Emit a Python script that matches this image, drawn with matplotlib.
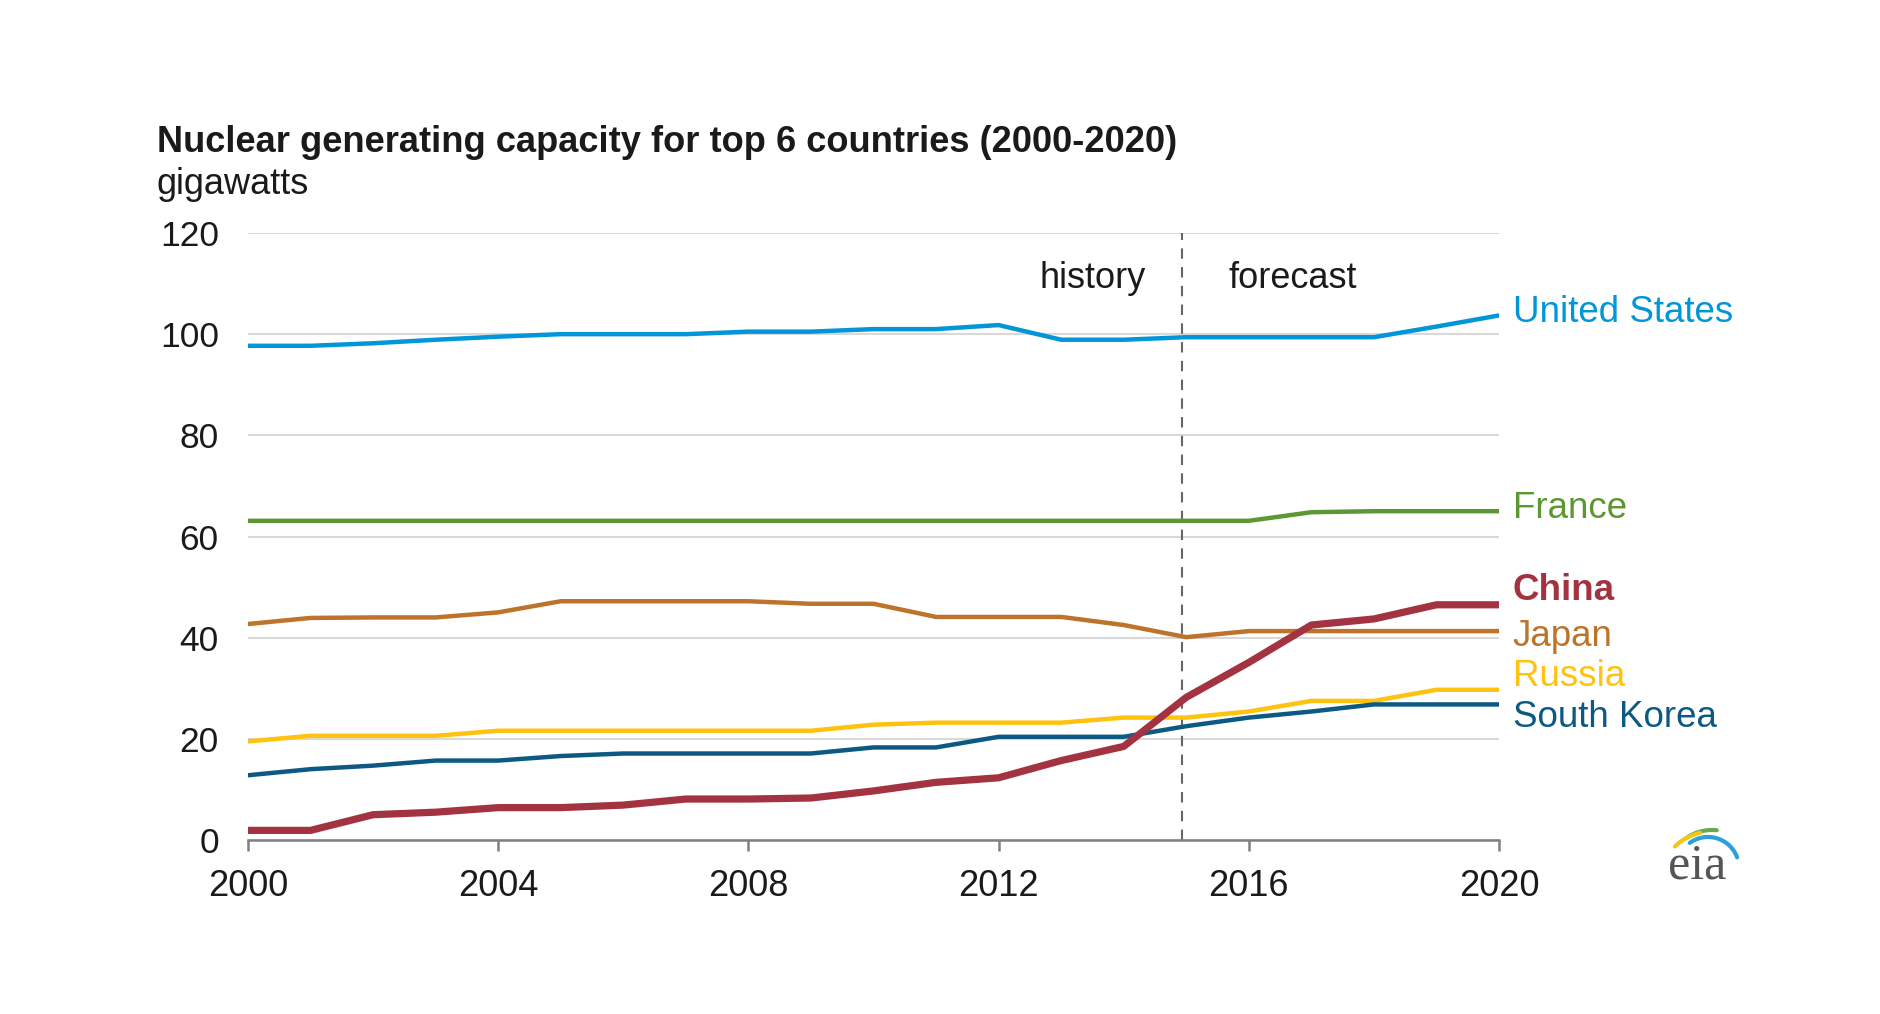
import matplotlib
matplotlib.use("Agg")
import matplotlib.pyplot as plt
import numpy as np

plt.rcParams['font.family'] = ['Liberation Sans', 'DejaVu Sans']

years = list(range(2000, 2021))
united_states = [97.7, 97.7, 98.2, 98.9, 99.5, 100.0, 100.0, 100.0, 100.5, 100.5, 101.0,
                 101.0, 101.8, 98.9, 98.9, 99.4, 99.4, 99.4, 99.4, 101.5, 103.7]
france = [63.1]*17 + [64.8, 65.0, 65.0, 65.0]
japan = [42.7, 43.9, 44.0, 44.0, 45.0, 47.2, 47.2, 47.2, 47.2, 46.7, 46.7,
         44.1, 44.1, 44.1, 42.5, 40.1, 41.3, 41.3, 41.3, 41.3, 41.3]
russia = [19.5, 20.6, 20.6, 20.6, 21.6, 21.6, 21.6, 21.6, 21.6, 21.6, 22.8,
          23.2, 23.2, 23.2, 24.2, 24.2, 25.4, 27.5, 27.5, 29.7, 29.7]
south_korea = [12.8, 14.0, 14.7, 15.7, 15.7, 16.6, 17.1, 17.1, 17.1, 17.1, 18.3,
               18.3, 20.4, 20.4, 20.4, 22.5, 24.2, 25.4, 26.8, 26.8, 26.8]
china = [1.9, 1.9, 5.0, 5.5, 6.4, 6.4, 6.9, 8.1, 8.1, 8.3, 9.7,
         11.4, 12.3, 15.7, 18.5, 28.2, 35.1, 42.5, 43.7, 46.5, 46.5]

series = [
    ("United States", united_states, "#0096d7", 3.2, 104.2, "normal"),
    ("France", france, "#5d9732", 3.2, 65.5, "normal"),
    ("Japan", japan, "#bd732a", 3.2, 40.3, "normal"),
    ("Russia", russia, "#ffc20e", 3.2, 32.3, "normal"),
    ("South Korea", south_korea, "#0c5a83", 3.2, 24.2, "normal"),
    ("China", china, "#a33340", 5.2, 49.3, "bold"),
]

fig = plt.figure(figsize=(18.81, 10.14), dpi=100)
ax = fig.add_axes([248/1881, 1-840/1014, (1499-248)/1881, (840-233)/1014])

for name, vals, col, lw, ly, fw in series:
    ax.plot(years, vals, color=col, lw=lw, solid_joinstyle='round', zorder=3)
    ax.annotate(name, xy=(2020, ly), xytext=(10, 0), textcoords='offset points',
                color=col, fontsize=26.5, fontweight=fw, va='center', ha='left',
                annotation_clip=False)

ax.set_xlim(2000, 2020)
ax.set_ylim(0, 120)
ax.set_yticks(range(0, 121, 20))
ax.set_xticks(range(2000, 2021, 4))
ax.yaxis.grid(True, color='#d9d9d9', lw=1.5, zorder=0)
ax.set_axisbelow(True)
for s in ['top', 'right', 'left']:
    ax.spines[s].set_visible(False)
ax.spines['bottom'].set_color('#808080')
ax.spines['bottom'].set_linewidth(1.8)
ax.spines['bottom'].set_zorder(4)
ax.tick_params(axis='y', length=0, pad=21, labelsize=25.5, labelcolor='#1a1a1a')
ax.tick_params(axis='x', length=8, width=1.8, color='#808080', pad=13,
               labelsize=26, labelcolor='#1a1a1a')

ax.axvline(2014.93, color='#666666', lw=1.5, ls=(0, (5, 4)), zorder=2)
ax.text(2013.5, 111, "history", fontsize=26, ha='center', va='center', color='#1a1a1a')
ax.text(2016.7, 111, "forecast", fontsize=26, ha='center', va='center', color='#1a1a1a')

fig.text(157/1881, 1-142/1014, "Nuclear generating capacity for top 6 countries (2000-2020)",
         fontsize=26.1, fontweight='bold', ha='left', va='center', color='#1a1a1a')
fig.text(157/1881, 1-184/1014, "gigawatts", fontsize=26, ha='left', va='center', color='#1a1a1a')

# eia logo (decorative), drawn in a pixel-unit axes
lax = fig.add_axes([1650/1881, 1-895/1014, 100/1881, 80/1014])
lax.set_xlim(1650, 1750)
lax.set_ylim(895, 815)
lax.axis('off')
lax.text(1697, 866, "eia", fontsize=36, family=['Liberation Serif', 'DejaVu Serif'],
         color='#555555', ha='center', va='center')
for (cx, cy, r, a0, a1, col) in [(1708, 868, 31, 20, 126, '#2aa0dc'),
                                 (1712, 875, 45, 84, 124, '#6aa84f'),
                                 (1712, 885, 53.5, 103, 134, '#f5c518')]:
    t = np.radians(np.linspace(a0, a1, 60))
    lax.plot(cx + r*np.cos(t), cy - r*np.sin(t), color=col, lw=3, solid_capstyle='round')

fig.savefig("out.png", dpi=100, facecolor='white')
